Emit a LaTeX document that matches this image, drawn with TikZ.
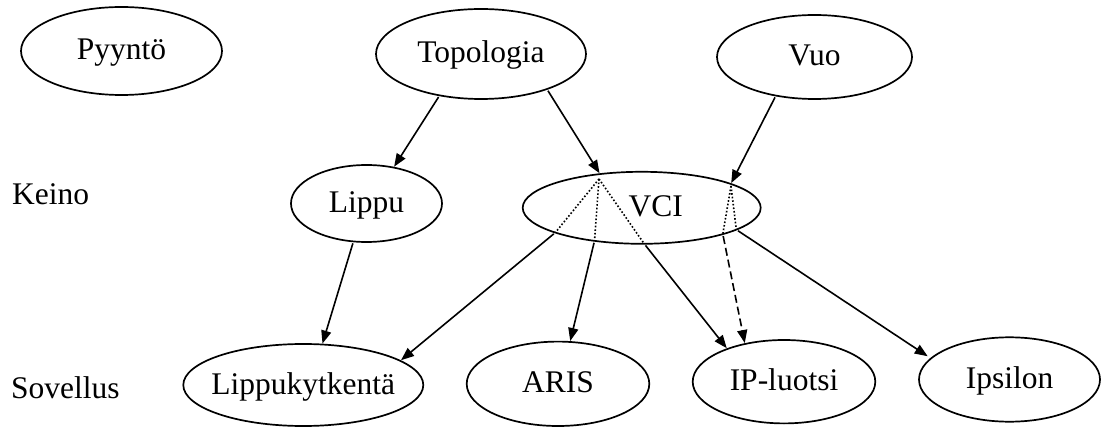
\documentclass[tikz,border=0pt]{standalone}
\usepackage{fontspec}
\setmainfont{Liberation Serif}
\usetikzlibrary{shapes.geometric,arrows.meta}
% node text of zero width, so the ellipse size comes from the minimum sizes only
\newcommand{\ctrtext}[1]{\makebox[0pt]{#1}}
\begin{document}
\begin{tikzpicture}[x=1pt,y=-1pt,
  every node/.style={font=\fontsize{31.5}{38}\selectfont},
  oval/.style={ellipse, draw, line width=1.7pt, inner sep=0pt, outer sep=0pt,
    text height=22.5pt, text depth=4.5pt},
  level/.style={anchor=base west, inner sep=0pt},
  link/.style={line width=1.6pt, -{Triangle[length=13pt,width=10pt]},
    shorten <=2pt, shorten >=1pt},
  inside/.style={line width=1.6pt, dotted},
  weak/.style={dash pattern=on 8pt off 4pt}]
\useasboundingbox (0,0) rectangle (1102,427);

% levels
\node[level] (keino) at (12,205) {Keino};
\node[level] (sovellus) at (11,398) {Sovellus};

% top row
\node[oval, minimum width=201pt, minimum height=88pt] (pyynto) at (121.5,51) {\ctrtext{Pyyntö}};
\node[oval, minimum width=210pt, minimum height=90pt] (topo) at (481,54) {\ctrtext{Topologia}};
\node[oval, minimum width=195pt, minimum height=84pt] (vuo) at (814.5,57) {\ctrtext{Vuo}};

% middle row
\node[oval, minimum width=151pt, minimum height=77pt] (lippu) at (366.5,203.5) {\ctrtext{Lippu}};
\node[oval, minimum width=238pt, minimum height=72pt] (vci) at (641.7,207.8) {\ctrtext{\hspace{28pt}VCI}};

% bottom row
\node[oval, minimum width=240pt, minimum height=82pt] (lk) at (303.3,385) {\ctrtext{Lippukytkentä}};
\node[oval, minimum width=182.6pt, minimum height=84.4pt] (aris) at (558,383.8) {\ctrtext{ARIS}};
\node[oval, minimum width=182.6pt, minimum height=83.4pt] (ip) at (784,381.7) {\ctrtext{IP-luotsi}};
\node[oval, minimum width=181pt, minimum height=84.4pt] (ipsilon) at (1009.5,379.5) {\ctrtext{Ipsilon}};

% junctions inside VCI and on its border
\coordinate (hubA) at (599,179);
\coordinate (hubB) at (731,186);
\coordinate (jLK) at (vci.196);
\coordinate (jARIS) at (vci.215);
\coordinate (jIP) at (vci.274);
\coordinate (jIPd) at (vci.342);
\coordinate (jIps) at (vci.347);

% incoming arrows
\draw[link] (topo.225) -- (lippu.53);
\draw[link] (topo.332) -- (vci.141);
\draw[link] (vuo.225) -- (vci.15);
\draw[link] (lippu.251) -- (lk.65);

% paths through VCI
\draw[inside] (hubA) -- (jLK);
\draw[inside] (hubA) -- (jARIS);
\draw[inside] (hubA) -- (jIP);
\draw[inside] (hubB) -- (jIPd);
\draw[inside] (hubB) -- (jIps);

% outgoing arrows
\draw[link] (jLK) -- (lk.14);
\draw[link] (jARIS) -- (aris.74);
\draw[link] (jIP) -- (ip.150);
\draw[link, weak] (jIPd) -- (ip.136);
\draw[link, shorten >=4pt] (jIps) -- (ipsilon.165);
\end{tikzpicture}
\end{document}
